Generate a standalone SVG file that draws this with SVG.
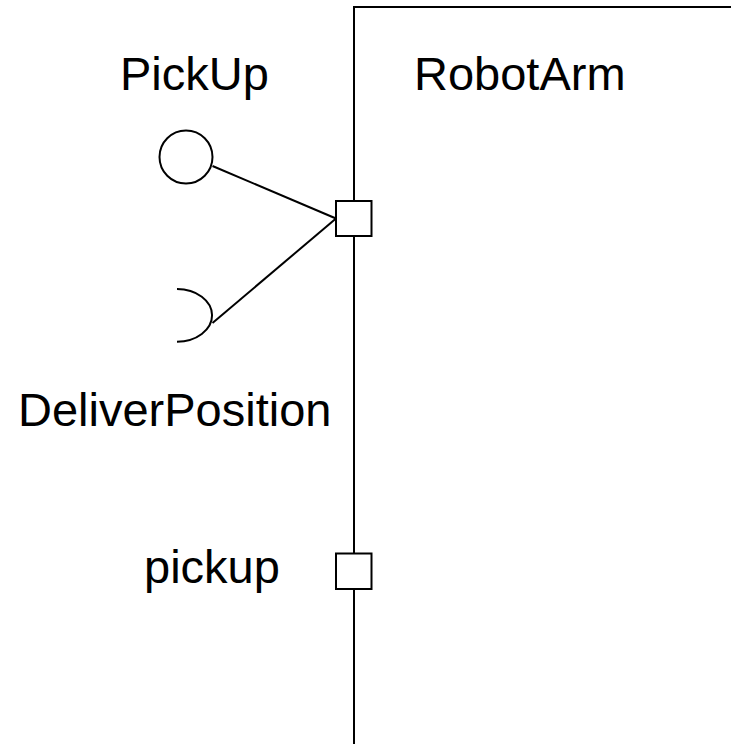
<svg xmlns="http://www.w3.org/2000/svg" width="731" height="744" viewBox="0 0 731 744">
<style>
.ln{fill:none;stroke:#000;stroke-width:2}
.port{fill:#fff;stroke:#000;stroke-width:2}
.t{font-family:"Liberation Sans",Arial,sans-serif;font-size:47px;fill:#000}
</style>
<rect width="731" height="744" fill="#fff"/>
<g id="RobotArm">
<path class="ln" d="M354,745 V7 H732"/>
<text class="t" x="414" y="90">RobotArm</text>
</g>
<g id="PickUp">
<circle class="ln" cx="186" cy="157" r="26.5"/>
<text class="t" x="120" y="90">PickUp</text>
</g>
<g id="DeliverPosition">
<path class="ln" d="M177,289 A35,26.3 0 0 1 177,341.7"/>
<text class="t" x="18" y="426">DeliverPosition</text>
</g>
<g id="connectors">
<line class="ln" x1="212.5" y1="166" x2="336" y2="218.5"/>
<line class="ln" x1="212.5" y1="323" x2="336" y2="218.5"/>
</g>
<g id="port1">
<rect class="port" x="336" y="201" width="35.5" height="35"/>
</g>
<g id="port2">
<rect class="port" x="336" y="553.5" width="35.5" height="35.5"/>
<text class="t" x="144" y="583">pickup</text>
</g>
</svg>
